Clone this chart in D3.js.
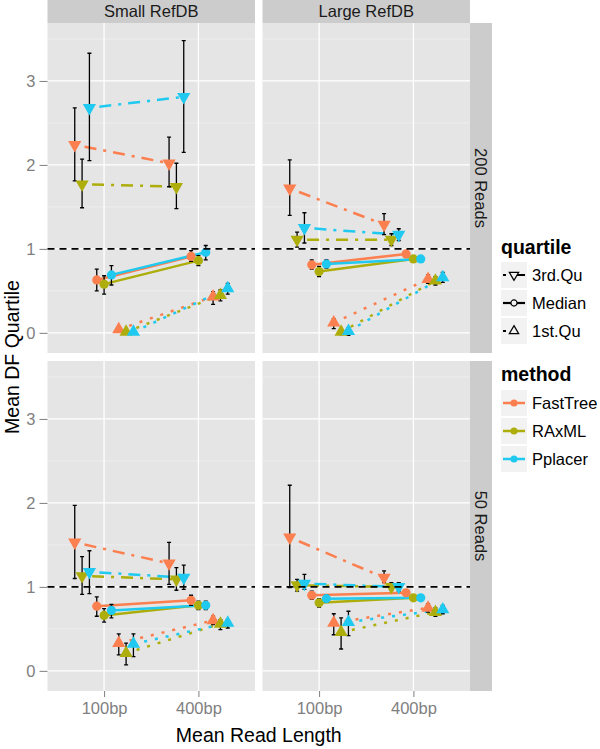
<!DOCTYPE html>
<html><head><meta charset="utf-8">
<script src="https://cdn.jsdelivr.net/npm/d3@7"></script>
<style>body{margin:0;background:#fff}svg{display:block;font-family:"Liberation Sans",Arial,Helvetica,sans-serif}</style>
</head><body><svg id="c" width="600" height="749"></svg>
<script>
// ---- data ----
const refdbs = ["Small RefDB", "Large RefDB"];
const readsets = ["200 Reads", "50 Reads"];
const lengths = ["100bp", "400bp"];
const quartiles = ["3rd.Qu", "Median", "1st.Qu"];
const methods = ["FastTree", "RAxML", "Pplacer"];
const methodColors = ["#fb7f4f", "#adad0c", "#1fc9ef"];
const yTicks = [0, 1, 2, 3];
// rows: 3rd FT, 3rd RAxML, 3rd Pplacer, Median FT, Median RAxML, Median Pplacer, 1st FT, 1st RAxML, 1st Pplacer
// columns: [100bp, 400bp]
const small200Mean = [[2.24,2.02],[1.77,1.74],[2.68,2.81],[0.63,0.91],[0.58,0.86],[0.69,0.96],[0.04,0.43],[0.01,0.45],[0.01,0.53]];
const small200Low  = [[1.81,1.74],[1.49,1.48],[2.05,2.15],[0.50,0.85],[0.46,0.80],[0.57,0.87],[0.02,0.34],[0.00,0.38],[0.00,0.46]];
const small200High = [[2.68,2.33],[2.07,2.02],[3.33,3.48],[0.76,0.98],[0.68,0.92],[0.80,1.04],[0.06,0.49],[0.02,0.51],[0.02,0.59]];
const large200Mean = [[1.72,1.29],[1.11,1.11],[1.25,1.17],[0.81,0.94],[0.73,0.88],[0.82,0.88],[0.12,0.64],[0.01,0.62],[0.02,0.66]];
const large200Low  = [[1.40,1.17],[1.02,1.04],[1.07,1.10],[0.76,0.91],[0.67,0.85],[0.77,0.85],[0.05,0.59],[-0.02,0.57],[-0.03,0.60]];
const large200High = [[2.06,1.42],[1.20,1.18],[1.43,1.24],[0.87,0.97],[0.79,0.91],[0.87,0.91],[0.17,0.69],[0.03,0.67],[0.06,0.72]];
const small50Mean  = [[1.53,1.28],[1.13,1.09],[1.18,1.11],[0.77,0.84],[0.66,0.78],[0.72,0.78],[0.33,0.60],[0.21,0.56],[0.32,0.57]];
const small50Low   = [[1.10,1.03],[0.91,0.96],[0.92,0.97],[0.65,0.78],[0.58,0.73],[0.63,0.73],[0.19,0.55],[0.07,0.49],[0.17,0.51]];
const small50High  = [[1.97,1.53],[1.36,1.23],[1.43,1.26],[0.88,0.90],[0.74,0.83],[0.79,0.83],[0.44,0.65],[0.33,0.61],[0.44,0.61]];
const large50Mean  = [[1.59,1.11],[1.02,1.00],[1.04,1.00],[0.90,0.93],[0.81,0.87],[0.86,0.87],[0.57,0.75],[0.46,0.70],[0.58,0.73]];
const large50Low   = [[0.99,1.05],[0.95,0.96],[0.97,0.95],[0.85,0.90],[0.76,0.84],[0.82,0.84],[0.43,0.70],[0.26,0.65],[0.42,0.68]];
const large50High  = [[2.21,1.19],[1.09,1.05],[1.15,1.05],[0.95,0.96],[0.86,0.90],[0.90,0.90],[0.68,0.80],[0.63,0.75],[0.71,0.78]];

const panels = [
  {col:0,row:0,mean:small200Mean,low:small200Low,high:small200High},
  {col:1,row:0,mean:large200Mean,low:large200Low,high:large200High},
  {col:0,row:1,mean:small50Mean,low:small50Low,high:small50High},
  {col:1,row:1,mean:large50Mean,low:large50Low,high:large50High}
];

// ---- layout ----
const svg = d3.select("#c");
const panelX = [47.5, 262.5], panelY = [23, 361], panelW = 207.5, panelH = 330;
const stripH = 23, stripW = 22;
const smallFont = 16.5, titleFont = 19.5;
const dashes = {"3rd.Qu":"3,7,12,7","Median":null,"1st.Qu":"3,8"};
const shapes = {"3rd.Qu":"down","Median":"circle","1st.Qu":"up"};

const x = d3.scalePoint().domain(lengths).range([0, panelW]).padding(0.6);
const dodge = x.step() * 0.7 / 9;
const y = d3.scaleLinear().domain([-0.24, 3.69]).range([panelH, 0]);
const minorTicks = [0.5, 1.5, 2.5, 3.5];

function sym(type, size) {
  if (type === "circle") return d3.symbol(d3.symbolCircle, size)();
  return d3.symbol(d3.symbolTriangle, size)();
}

const combos = [];
quartiles.forEach((q, qi) => methods.forEach((m, mi) => combos.push({q, qi, m, mi, k: qi*3+mi})));

panels.forEach(p => {
  const g = svg.append("g").attr("transform", `translate(${panelX[p.col]},${panelY[p.row]})`);
  g.append("rect").attr("width", panelW).attr("height", panelH).attr("fill", "#e5e5e5");
  g.selectAll(".mn").data(minorTicks).join("line")
    .attr("x1", 0).attr("x2", panelW).attr("y1", d => y(d)).attr("y2", d => y(d))
    .attr("stroke", "#f2f2f2").attr("stroke-width", 0.7);
  g.selectAll(".mj").data(yTicks).join("line")
    .attr("x1", 0).attr("x2", panelW).attr("y1", d => y(d)).attr("y2", d => y(d))
    .attr("stroke", "#fff").attr("stroke-width", 1.3);
  g.selectAll(".vx").data(lengths).join("line")
    .attr("x1", d => x(d)).attr("x2", d => x(d)).attr("y1", 0).attr("y2", panelH)
    .attr("stroke", "#fff").attr("stroke-width", 1.3);

  const px = (li, k) => x(lengths[li]) + (k - 4) * dodge;
  // lines
  combos.forEach(c => {
    const ln = g.append("line")
      .attr("x1", px(0, c.k)).attr("y1", y(p.mean[c.k][0]))
      .attr("x2", px(1, c.k)).attr("y2", y(p.mean[c.k][1]))
      .attr("stroke", methodColors[c.mi]).attr("stroke-width", 2.5);
    if (dashes[c.q]) ln.attr("stroke-dasharray", dashes[c.q]);
  });
  // error bars
  combos.forEach(c => {
    [0, 1].forEach(li => {
      const cx = px(li, c.k), lo = y(p.low[c.k][li]), hi = y(p.high[c.k][li]);
      g.append("path").attr("d", `M${cx},${hi}V${lo}M${cx-2},${hi}H${cx+2}M${cx-2},${lo}H${cx+2}`)
        .attr("stroke", "#000").attr("stroke-width", 1.3).attr("fill", "none");
    });
  });
  // points
  combos.forEach(c => {
    [0, 1].forEach(li => {
      const sh = shapes[c.q];
      const rot = sh === "down" ? " rotate(180)" : "";
      g.append("path").attr("d", sym(sh, sh === "circle" ? 66 : 76))
        .attr("transform", `translate(${px(li, c.k)},${y(p.mean[c.k][li])})${rot}`)
        .attr("fill", methodColors[c.mi]);
    });
  });
  // reference line
  g.append("line").attr("x1", 0).attr("x2", panelW).attr("y1", y(1)).attr("y2", y(1))
    .attr("stroke", "#000").attr("stroke-width", 1.6).attr("stroke-dasharray", "7,5");
});

// top strips
refdbs.forEach((r, i) => {
  svg.append("rect").attr("x", panelX[i]).attr("y", 0).attr("width", panelW).attr("height", stripH).attr("fill", "#cccccc");
  svg.append("text").attr("x", panelX[i] + panelW/2).attr("y", stripH/2).attr("dy", "0.35em")
    .attr("text-anchor", "middle").attr("font-size", smallFont).attr("fill", "#1a1a1a").text(r);
});
// right strips
const rx = panelX[1] + panelW;
readsets.forEach((r, i) => {
  svg.append("rect").attr("x", rx).attr("y", panelY[i]).attr("width", stripW).attr("height", panelH).attr("fill", "#cccccc");
  svg.append("text").attr("transform", `translate(${rx + stripW/2},${panelY[i] + panelH/2}) rotate(90)`)
    .attr("dy", "0.35em").attr("text-anchor", "middle").attr("font-size", smallFont).attr("fill", "#1a1a1a").text(r);
});

// y axes
panelY.forEach(py => {
  const ax = svg.append("g").attr("transform", `translate(${panelX[0]},${py})`)
    .call(d3.axisLeft(y).tickValues(yTicks).tickFormat(d3.format("d")).tickSize(8).tickPadding(4));
  ax.select(".domain").remove();
  ax.selectAll("line").attr("stroke", "#7f7f7f");
  ax.selectAll("text").attr("font-size", smallFont).attr("fill", "#7f7f7f").attr("font-family", null);
});
// x axes
panelX.forEach(pxl => {
  const ax = svg.append("g").attr("transform", `translate(${pxl},${panelY[1] + panelH})`)
    .call(d3.axisBottom(x).tickSize(6).tickPadding(5));
  ax.select(".domain").remove();
  ax.selectAll("line").attr("stroke", "#7f7f7f");
  ax.selectAll("text").attr("font-size", smallFont).attr("fill", "#7f7f7f").attr("font-family", null);
});

// axis titles
svg.append("text").attr("x", (panelX[0] + panelX[1] + panelW)/2).attr("y", 742)
  .attr("text-anchor", "middle").attr("font-size", titleFont).text("Mean Read Length");
svg.append("text").attr("transform", `translate(19,${(panelY[0] + panelY[1] + panelH)/2}) rotate(-90)`)
  .attr("text-anchor", "middle").attr("font-size", titleFont).text("Mean DF Quartile");

// legends
const lx = 501, keyS = 26, keyStep = 28;
const lq = svg.append("g");
lq.append("text").attr("x", lx).attr("y", 254).attr("font-size", titleFont).attr("font-weight", "bold").text("quartile");
quartiles.forEach((q, i) => {
  const ky = 262 + i*keyStep;
  lq.append("rect").attr("x", lx).attr("y", ky).attr("width", keyS).attr("height", keyS).attr("fill", "#f2f2f2");
  const ln = lq.append("line").attr("x1", lx + 2).attr("x2", lx + keyS - 2).attr("y1", ky + keyS/2).attr("y2", ky + keyS/2)
    .attr("stroke", "#000").attr("stroke-width", 2.2);
  if (dashes[q]) ln.attr("stroke-dasharray", dashes[q]);
  const sh = shapes[q];
  const rot = sh === "down" ? " rotate(180)" : "";
  lq.append("path").attr("d", sym(sh, sh === "circle" ? 30 : 38))
    .attr("transform", `translate(${lx + keyS/2},${ky + keyS/2})${rot}`)
    .attr("fill", "#f2f2f2").attr("stroke", "#000").attr("stroke-width", 1.2);
  lq.append("text").attr("x", lx + keyS + 5).attr("y", ky + keyS/2).attr("dy", "0.35em")
    .attr("font-size", smallFont).text(q);
});
const lm = svg.append("g");
lm.append("text").attr("x", lx).attr("y", 381).attr("font-size", titleFont).attr("font-weight", "bold").text("method");
methods.forEach((m, i) => {
  const ky = 390 + i*keyStep;
  lm.append("rect").attr("x", lx).attr("y", ky).attr("width", keyS).attr("height", keyS).attr("fill", "#f2f2f2");
  lm.append("line").attr("x1", lx + 2).attr("x2", lx + keyS - 2).attr("y1", ky + keyS/2).attr("y2", ky + keyS/2)
    .attr("stroke", methodColors[i]).attr("stroke-width", 2.5);
  lm.append("path").attr("d", sym("circle", 40)).attr("transform", `translate(${lx + keyS/2},${ky + keyS/2})`)
    .attr("fill", methodColors[i]);
  lm.append("text").attr("x", lx + keyS + 5).attr("y", ky + keyS/2).attr("dy", "0.35em")
    .attr("font-size", smallFont).text(m);
});
</script></body></html>
